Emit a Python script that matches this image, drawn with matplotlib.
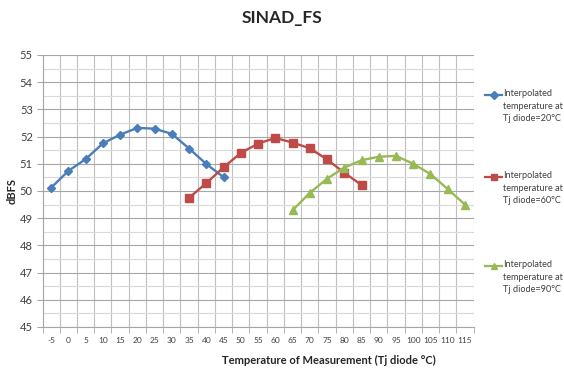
import matplotlib

matplotlib.use("Agg")

import matplotlib.pyplot as plt  # isort: skip
from matplotlib.lines import Line2D  # isort: skip

plt.rcParams["font.family"] = ["Lato", "DejaVu Sans"]

# Temperature categories (Tj diode, °C)
temps = [-5, 0, 5, 10, 15, 20, 25, 30, 35, 40, 45, 50, 55, 60,
         65, 70, 75, 80, 85, 90, 95, 100, 105, 110, 115]

# SINAD_FS per interpolated Tj diode temperature
temps_20 = [-5, 0, 5, 10, 15, 20, 25, 30, 35, 40, 45]
sinad_20 = [50.12, 50.74, 51.17, 51.75, 52.07, 52.32, 52.29, 52.10, 51.56, 50.99, 50.51]

temps_60 = [35, 40, 45, 50, 55, 60, 65, 70, 75, 80, 85]
sinad_60 = [49.75, 50.29, 50.87, 51.40, 51.74, 51.95, 51.78, 51.57, 51.16, 50.67, 50.22]

temps_90 = [65, 70, 75, 80, 85, 90, 95, 100, 105, 110, 115]
sinad_90 = [49.29, 49.93, 50.45, 50.86, 51.13, 51.26, 51.29, 51.00, 50.62, 50.07, 49.50]

labels = [
    "Interpolated\ntemperature at\nTj diode=20°C",
    "Interpolated\ntemperature at\nTj diode=60°C",
    "Interpolated\ntemperature at\nTj diode=90°C",
]
colors = ["#4A7EBB", "#BE4B48", "#98B954"]
markers = ["D", "s", "^"]
msizes = [4.5, 5.5, 5.5]

fig = plt.figure(figsize=(5.64, 3.74), dpi=100)
ax = fig.add_axes([0.0754, 0.1257, 0.7643, 0.7273])

series = [(temps_20, sinad_20), (temps_60, sinad_60), (temps_90, sinad_90)]
for (xs, ys), c, m, ms in zip(series, colors, markers, msizes):
    pos = [temps.index(t) for t in xs]
    ax.plot(pos, ys, color=c, lw=1.7, marker=m, ms=ms, mec=c, mfc=c, zorder=3)

ax.set_xlim(-0.5, len(temps) - 0.5)
ax.set_ylim(45, 55)

# category labels centred, gridlines between categories
ax.set_xticks(range(len(temps)))
ax.set_xticklabels([str(t) for t in temps], fontsize=6, color="#404040")
ax.set_xticks([i - 0.5 for i in range(len(temps) + 1)], minor=True)
ax.tick_params(axis="x", which="major", length=0, pad=7)
ax.tick_params(axis="x", which="minor", length=4, color="#A6A6A6")

ax.set_yticks(range(45, 56))
ax.set_yticklabels([str(v) for v in range(45, 56)], fontsize=8, color="#404040")
ax.set_yticks([v + 0.5 for v in range(45, 55)], minor=True)
ax.tick_params(axis="y", which="major", length=4, color="#A6A6A6", pad=3)
ax.tick_params(axis="y", which="minor", length=0)

ax.grid(axis="x", which="minor", color="#BFBFBF", lw=0.8)
ax.grid(axis="y", which="major", color="#A6A6A6", lw=0.8)
ax.grid(axis="y", which="minor", color="#D9D9D9", lw=0.8)
ax.set_axisbelow(True)

for side in ["top", "right"]:
    ax.spines[side].set_visible(False)
for side in ["left", "bottom"]:
    ax.spines[side].set_color("#A6A6A6")
    ax.spines[side].set_linewidth(0.8)

fig.text(0.5, 0.952, "SINAD_FS", ha="center", va="center",
         fontsize=12.5, fontweight="bold", color="#262626")
fig.text(0.583, 0.037, "Temperature of Measurement (Tj diode °C)",
         ha="center", va="center", fontsize=8, fontweight="bold", color="#262626")
fig.text(0.021, 0.49, "dBFS", ha="center", va="center", rotation=90,
         fontsize=8, fontweight="bold", color="#262626")

# legend entries, one block per series down the right side
legend_y = [1 - 95 / 374, 1 - 177 / 374, 1 - 266 / 374]
for y, lab, c, m, ms in zip(legend_y, labels, colors, markers, msizes):
    fig.add_artist(Line2D([0.860, 0.890], [y, y], transform=fig.transFigure,
                          color=c, lw=1.6))
    fig.add_artist(Line2D([0.875], [y], transform=fig.transFigure, color=c,
                          marker=m, ms=ms - 0.5, mec=c, mfc=c))
    fig.text(0.892, y + 0.015, lab, ha="left", va="top", fontsize=6.6,
             color="#404040", linespacing=1.45)

fig.savefig("out.png", dpi=100)
